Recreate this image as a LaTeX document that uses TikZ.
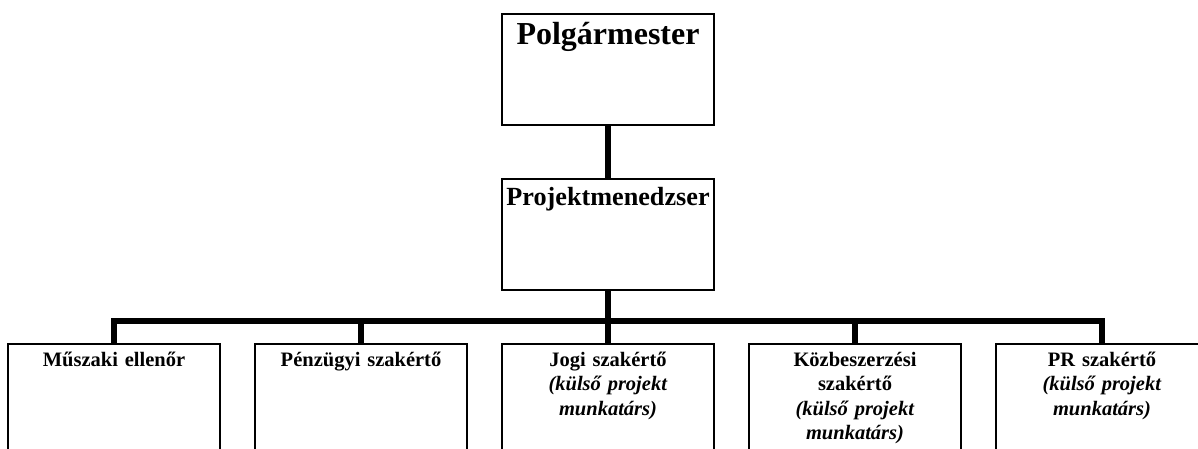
\documentclass[tikz,border=0pt]{standalone}
\usepackage{fontspec}
\setmainfont{Liberation Serif}
\begin{document}
\begin{tikzpicture}[x=1pt,y=-1pt,
  box/.style={draw, line width=1.5pt, minimum width=212pt, inner sep=0pt, outer sep=0pt, anchor=north west},
  link/.style={line width=6pt, line join=miter},
  ttl/.style={text width=210pt, align=center, inner sep=0pt, anchor=base, font=\bfseries},
  big/.style={ttl, font=\bfseries\fontsize{32}{36}\selectfont},
  mid/.style={ttl, font=\bfseries\fontsize{26.2}{30}\selectfont},
  sml/.style={ttl, font=\bfseries\fontsize{20.5}{24.5}\selectfont}]
\clip (0,0) rectangle (1198,449);
\fill[white] (0,0) rectangle (1198,449);
% boxes
\node[box, minimum height=111pt] (pm) at (502,14) {};
\node[box, minimum height=111pt] (proj) at (502,179) {};
\node[box, minimum height=130pt] (b1) at (8,344) {};
\node[box, minimum height=130pt] (b2) at (255,344) {};
\node[box, minimum height=130pt] (b3) at (502,344) {};
\node[box, minimum height=130pt] (b4) at (749,344) {};
\node[box, minimum height=130pt] (b5) at (996,344) {};
% texts
\node[big] (tpm) at (608,45) {Polgármester};
\node[mid] (tproj) at (608,205.5) {Projektmenedzser};
\node[sml] (t1) at (114,366) {Műszaki ellenőr};
\node[sml] (t2) at (361,366) {Pénzügyi szakértő};
\node[sml] (t3) at (608,366) {Jogi szakértő\\\textit{(külső projekt}\\\textit{munkatárs)}};
\node[sml] (t4) at (855,366) {Közbeszerzési\\szakértő\\\textit{(külső projekt}\\\textit{munkatárs)}};
\node[sml] (t5) at (1102,366) {PR szakértő\\\textit{(külső projekt}\\\textit{munkatárs)}};
% connectors
\coordinate (bus) at (proj.south |- 0,321);
\draw[link] (pm.south) -- (proj.north);
\draw[link] (proj.south) -- (bus);
\draw[link] (b1.north) -- (b1.north |- bus) -- (b5.north |- bus) -- (b5.north);
\draw[link] (b2.north) -- (b2.north |- bus);
\draw[link] (b3.north) -- (b3.north |- bus);
\draw[link] (b4.north) -- (b4.north |- bus);
\end{tikzpicture}
\end{document}
